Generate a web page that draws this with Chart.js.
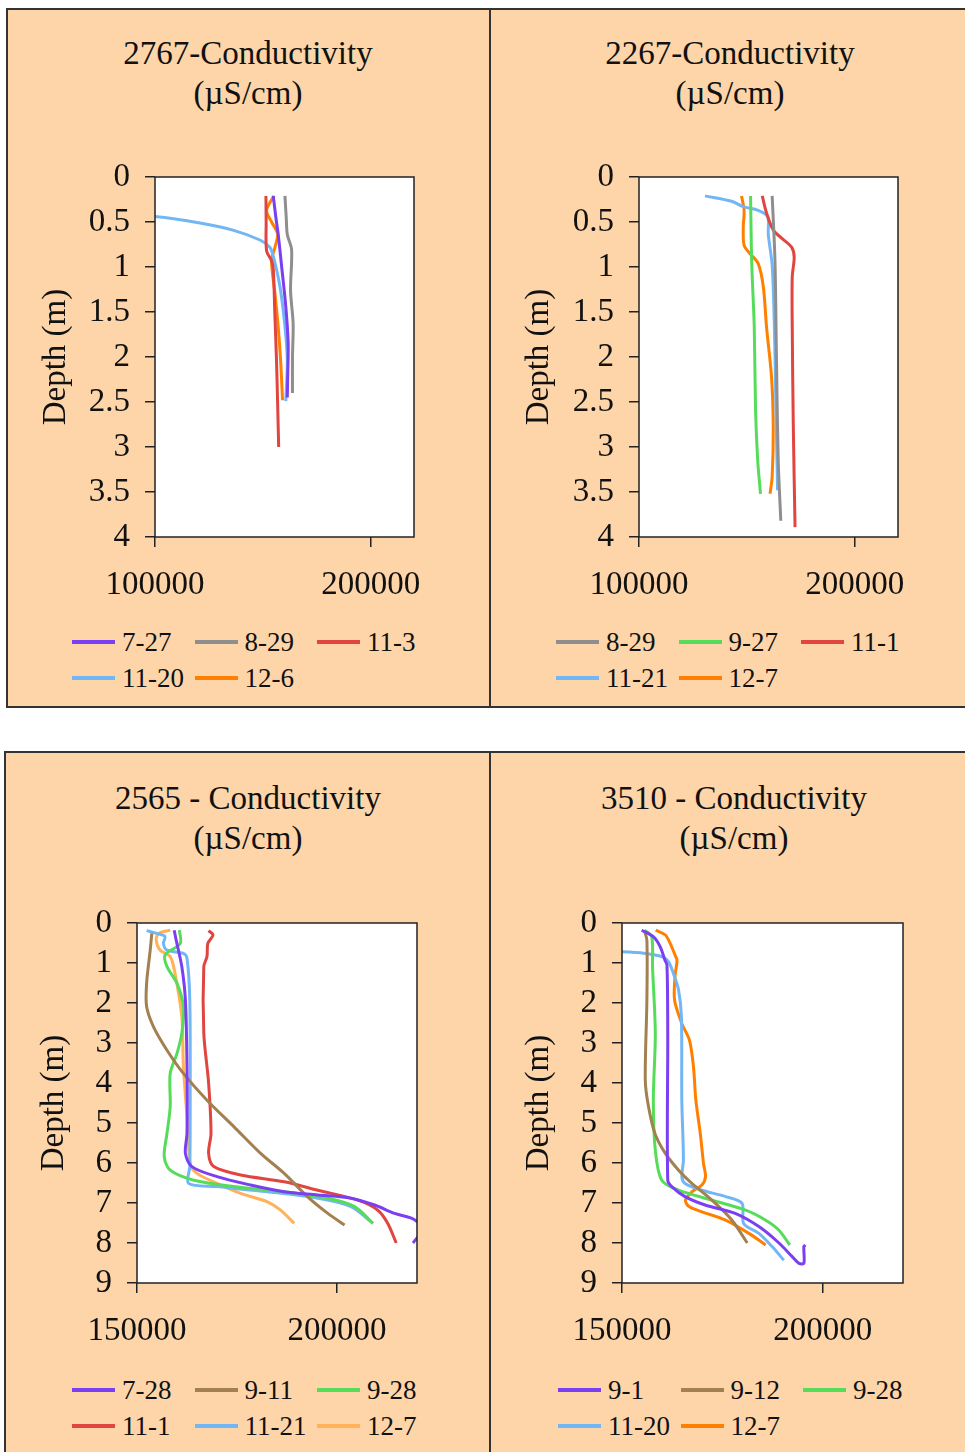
<!DOCTYPE html>
<html>
<head>
<meta charset="utf-8">
<script src="https://cdn.jsdelivr.net/npm/chart.js@4.4.1/dist/chart.umd.min.js"></script>
<style>
  html, body { margin: 0; padding: 0; background: #fff; }
  body { width: 965px; height: 1452px; position: relative; overflow: hidden;
         font-family: "Liberation Serif", "Times New Roman", serif; color: #111; }
  .panel { position: absolute; box-sizing: border-box; background: #fdd5a9; border: 2px solid #333; }
  canvas { position: absolute; }
  .title { position: absolute; width: 480px; text-align: center; font-size: 33px; line-height: 40px; }
  .legend { position: absolute; font-size: 27px; }
  .legend .item { position: absolute; height: 36px; line-height: 36px; white-space: nowrap; }
  .legend .item i { position: absolute; left: 0; top: 16px; width: 43px; height: 4px; }
  .legend .item span { position: absolute; left: 50px; top: 0; }
</style>
</head>
<body>
<div class="panel" style="left:6px;top:8px;width:485px;height:700px"></div>
<div class="panel" style="left:489px;top:8px;width:500px;height:700px"></div>
<div class="panel" style="left:4px;top:751px;width:487px;height:720px"></div>
<div class="panel" style="left:489px;top:751px;width:500px;height:720px"></div>

<div class="title" style="left:8px;top:33px">2767-Conductivity<br>(µS/cm)</div>
<div class="title" style="left:490px;top:33px">2267-Conductivity<br>(µS/cm)</div>
<div class="title" style="left:8px;top:778px">2565 - Conductivity<br>(µS/cm)</div>
<div class="title" style="left:494px;top:778px">3510 - Conductivity<br>(µS/cm)</div>

<canvas id="c2767" width="484" height="475" style="left:6px;top:137px"></canvas>
<canvas id="c2267" width="484" height="475" style="left:489px;top:137px"></canvas>
<canvas id="c2565" width="486" height="475" style="left:4px;top:883px"></canvas>
<canvas id="c3510" width="484" height="475" style="left:489px;top:883px"></canvas>

<div class="legend" id="l2767" style="left:72px;top:624px"></div>
<div class="legend" id="l2267" style="left:556px;top:624px"></div>
<div class="legend" id="l2565" style="left:72px;top:1372px"></div>
<div class="legend" id="l3510" style="left:558px;top:1372px"></div>

<script>
"use strict"

// tick labels
const xTicksTop = [100000, 200000];
const xTicksBottom = [150000, 200000];
const yTicksTop = [0, 0.5, 1, 1.5, 2, 2.5, 3, 3.5, 4];
const yTicksBottom = [0, 1, 2, 3, 4, 5, 6, 7, 8, 9];

// 2767 - depth (m) and conductivity (µS/cm) per date
const labels2767 = ['7-27', '8-29', '11-3', '11-20', '12-6'];
const depth2767_0727 = [0.21, 0.45, 0.64, 1.0, 1.44, 1.85, 2.2, 2.45];
const cond2767_0727 = [154800, 156000, 157100, 158700, 160600, 161700, 161500, 161300];
const depth2767_0829 = [0.21, 0.45, 0.64, 0.81, 1.26, 1.63, 2.0, 2.4];
const cond2767_0829 = [160200, 160800, 161300, 163300, 162800, 164000, 163700, 163700];
const depth2767_1103 = [0.21, 0.5, 0.82, 0.93, 1.02, 1.5, 2.04, 2.5, 3.0];
const cond2767_1103 = [151400, 151500, 151700, 154000, 154800, 155500, 156300, 156800, 157300];
const depth2767_1120 = [0.42, 0.44, 0.51, 0.59, 0.70, 0.78, 0.88, 1.22, 1.66, 2.04, 2.49];
const cond2767_1120 = [80000, 100000, 120800, 136100, 148600, 153200, 154800, 157900, 160200, 161300, 160600];
const depth2767_1206 = [0.21, 0.37, 0.50, 0.63, 0.78, 0.93, 1.30, 1.67, 2.04, 2.48];
const cond2767_1206 = [155100, 151700, 154000, 156800, 155600, 154000, 155600, 157100, 158200, 159100];

// 2267
const labels2267 = ['8-29', '9-27', '11-1', '11-21', '12-7'];
const depth2267_0829 = [0.21, 0.93, 2.04, 3.15, 3.82];
const cond2267_0829 = [161700, 163000, 163700, 164500, 165700];
const depth2267_0927 = [0.21, 0.93, 1.67, 2.59, 3.15, 3.52];
const cond2267_0927 = [151700, 152200, 153400, 154000, 155000, 156300];
const depth2267_1101 = [0.21, 0.40, 0.59, 0.68, 0.78, 0.89, 1.11, 1.67, 2.78, 3.89];
const cond2267_1101 = [157100, 159100, 162200, 166100, 170700, 171900, 171000, 171000, 171500, 172300];
const depth2267_1121 = [0.21, 0.27, 0.33, 0.37, 0.44, 0.64, 0.98, 1.63, 2.37, 3.48];
const cond2267_1121 = [130600, 142900, 148300, 155200, 159600, 159900, 161700, 162700, 163300, 164200];
const depth2267_1207 = [0.21, 0.37, 0.56, 0.76, 0.85, 0.96, 1.22, 1.67, 2.22, 2.78, 3.33, 3.52];
const cond2267_1207 = [147500, 148700, 148300, 148700, 151400, 155200, 157600, 159100, 161400, 162200, 161700, 160700];

// 2565
const labels2565 = ['7-28', '9-11', '9-28', '11-1', '11-21', '12-7'];
const depth2565_0728 = [0.18, 0.43, 1.09, 1.93, 3.59, 5.26, 5.76, 6.09, 6.34, 6.55, 6.72, 6.8, 6.88, 7.05, 7.26, 7.38, 7.55, 7.7, 7.84, 8.0];
const cond2565_0728 = [159300, 159800, 161200, 162100, 162500, 162500, 162100, 163700, 170000, 178400, 186800, 195200, 203500, 209400, 214400, 218600, 221000, 222000, 220300, 219000];
const depth2565_0911 = [0.26, 0.68, 1.51, 2.09, 2.59, 3.18, 3.76, 4.43, 5.09, 5.76, 6.26, 6.84, 7.26, 7.55];
const cond2565_0911 = [153700, 153300, 152400, 152400, 154100, 157500, 161600, 167500, 174200, 180900, 186800, 192600, 197700, 201900];
const depth2565_0928 = [0.18, 0.51, 0.8, 1.09, 1.51, 2.09, 2.76, 3.26, 3.76, 4.59, 5.26, 5.84, 6.18, 6.43, 6.59, 6.72, 6.88, 7.09, 7.51];
const cond2565_0928 = [160600, 160800, 157000, 157500, 160000, 161600, 161200, 160000, 158300, 158300, 157500, 156800, 158300, 164200, 174200, 186800, 197700, 204400, 209000];
const depth2565_1101 = [0.19, 0.3, 0.51, 0.84, 1.09, 2.76, 4.0, 5.26, 5.76, 6.09, 6.3, 6.47, 6.68, 6.93, 7.18, 7.51, 8.0];
const cond2565_1101 = [167900, 169000, 167700, 167500, 166700, 166700, 167900, 168500, 167900, 169200, 175900, 186800, 195200, 205200, 210200, 212700, 214800];
const depth2565_1121 = [0.19, 0.26, 0.34, 0.51, 0.68, 0.76, 0.88, 1.93, 4.43, 6.09, 6.51, 6.59, 6.72, 6.88, 7.09, 7.51];
const cond2565_1121 = [152400, 154900, 157000, 156600, 157500, 161600, 162500, 163200, 163300, 163200, 162900, 170000, 182600, 195200, 203500, 209000];
const depth2565_1207 = [0.18, 0.26, 0.43, 0.68, 0.84, 1.26, 2.34, 3.59, 4.84, 6.01, 6.26, 6.51, 6.76, 6.97, 7.18, 7.51];
const cond2565_1207 = [158300, 155400, 154800, 155800, 158300, 159500, 161200, 161600, 162500, 163300, 165000, 170000, 175900, 182600, 185900, 189300];

// 3510
const labels3510 = ['9-1', '9-12', '9-28', '11-20', '12-7'];
const depth3510_0901 = [0.18, 0.34, 0.59, 0.93, 1.05, 2.76, 6.43, 6.59, 6.84, 7.05, 7.26, 7.59, 8.0, 8.34, 8.51, 8.51, 8.09, 8.05];
const cond3510_0901 = [154900, 157800, 159500, 160700, 161200, 161400, 161400, 162400, 165700, 170700, 178200, 184100, 189100, 192400, 194100, 195300, 195300, 195700];
const depth3510_0912 = [0.19, 0.43, 1.93, 3.93, 4.59, 5.26, 5.76, 6.18, 6.51, 6.93, 7.43, 8.0];
const cond3510_0912 = [155600, 156200, 156200, 155800, 156600, 158200, 160800, 164100, 167400, 172400, 177400, 181200];
const depth3510_0928 = [0.18, 0.34, 1.09, 2.76, 4.43, 5.68, 6.43, 6.68, 6.93, 7.18, 7.43, 7.68, 8.05];
const cond3510_0928 = [155600, 157400, 157600, 158300, 157800, 158300, 159900, 164100, 172400, 180800, 185800, 189100, 191800];
const depth3510_1120 = [0.70, 0.72, 0.76, 0.84, 0.97, 1.26, 1.68, 2.34, 4.43, 5.93, 6.34, 6.51, 6.68, 6.84, 7.01, 7.51, 7.76, 8.09, 8.43];
const cond3510_1120 = [140000, 150000, 155800, 159900, 161600, 162800, 164100, 164800, 164900, 165300, 164900, 165700, 169900, 175800, 179900, 180300, 184100, 187400, 190300];
const depth3510_1207 = [0.18, 0.3, 0.51, 0.8, 0.93, 1.34, 1.93, 2.51, 2.93, 3.59, 4.43, 5.26, 6.01, 6.34, 6.55, 6.72, 6.93, 7.09, 7.22, 7.43, 7.76, 8.05];
const cond3510_1207 = [158400, 160800, 162000, 163200, 163700, 163200, 163100, 164900, 166800, 167800, 168400, 169500, 170300, 170800, 169900, 167400, 165800, 166700, 169900, 175800, 181600, 185800];

// line colours
const PURPLE = '#7b3ff2', GRAY = '#8e8e8e', RED = '#e0453f', BLUE = '#72b6f5',
      ORANGE = '#ff8000', GREEN = '#55dd5a', BROWN = '#a3804f', LIGHTORANGE = '#ffb257';

Chart.defaults.font.family = '"Liberation Serif", "Times New Roman", serif';
Chart.defaults.color = '#111';

// white plot area with a dark frame
const plotFrame = {
  id: 'plotFrame',
  beforeDraw(chart) {
    const a = chart.chartArea;
    chart.ctx.save();
    chart.ctx.fillStyle = '#fff';
    chart.ctx.fillRect(a.left, a.top, a.right - a.left, a.bottom - a.top);
    chart.ctx.restore();
  },
  afterDraw(chart) {
    const a = chart.chartArea;
    const ctx = chart.ctx;
    ctx.save();
    ctx.strokeStyle = '#222';
    ctx.lineWidth = 1.5;
    ctx.strokeRect(a.left, a.top, a.right - a.left, a.bottom - a.top);
    ctx.restore();
  }
};

function toPoints(cond, depth) {
  return cond.map((c, i) => ({ x: c, y: depth[i] }));
}

function buildChart(id, set) {
  new Chart(document.getElementById(id), {
    type: 'scatter',
    data: {
      datasets: set.labels.map((lab, i) => ({
        label: lab,
        data: toPoints(set.conds[i], set.depths[i]),
        borderColor: set.colors[i],
        backgroundColor: set.colors[i],
        showLine: true,
        pointRadius: 0,
        borderWidth: 3,
        tension: 0.3
      }))
    },
    options: {
      responsive: false,
      animation: false,
      layout: { padding: { top: 40, right: set.padRight, bottom: 0, left: 0 } },
      plugins: { legend: { display: false }, tooltip: { enabled: false } },
      scales: {
        x: {
          type: 'linear',
          min: set.xTicks[0],
          max: 220000,
          afterBuildTicks: s => { s.ticks = set.xTicks.map(v => ({ value: v })); },
          afterFit: s => { s.height = 75; },
          grid: { drawOnChartArea: false, drawTicks: true, tickLength: 10, color: '#222', lineWidth: 1.5 },
          border: { display: false },
          ticks: { padding: 19, font: { size: 33 }, color: '#111', maxRotation: 0, autoSkip: false,
                   callback: v => String(v) }
        },
        y: {
          type: 'linear',
          reverse: true,
          min: 0,
          max: set.yTicks[set.yTicks.length - 1],
          afterBuildTicks: s => { s.ticks = set.yTicks.map(v => ({ value: v })); },
          afterFit: s => { s.width = set.axisWidth; },
          grid: { drawOnChartArea: false, drawTicks: true, tickLength: 10, color: '#222', lineWidth: 1.5 },
          border: { display: false },
          ticks: { padding: 15, font: { size: 33 }, color: '#111', autoSkip: false,
                   callback: v => String(v) },
          title: { display: true, text: 'Depth (m)', font: { size: 33 }, color: '#111',
                   padding: { top: 31, bottom: 0 } }
        }
      }
    },
    plugins: [plotFrame]
  });
  buildLegend(set.legend, set.labels, set.colors);
}

// legend in three fixed columns like the original
function buildLegend(id, labels, colors) {
  const el = document.getElementById(id);
  labels.forEach((lab, i) => {
    const item = document.createElement('div');
    item.className = 'item';
    item.style.left = (i % 3) * 122.5 + 'px';
    item.style.top = Math.floor(i / 3) * 36 + 'px';
    const line = document.createElement('i');
    line.style.background = colors[i];
    const text = document.createElement('span');
    text.textContent = lab;
    item.appendChild(line);
    item.appendChild(text);
    el.appendChild(item);
  });
}

buildChart('c2767', {
  labels: labels2767,
  depths: [depth2767_0727, depth2767_0829, depth2767_1103, depth2767_1120, depth2767_1206],
  conds: [cond2767_0727, cond2767_0829, cond2767_1103, cond2767_1120, cond2767_1206],
  colors: [PURPLE, GRAY, RED, BLUE, ORANGE],
  xTicks: xTicksTop, yTicks: yTicksTop,
  axisWidth: 149, padRight: 76, legend: 'l2767'
});

buildChart('c2267', {
  labels: labels2267,
  depths: [depth2267_0829, depth2267_0927, depth2267_1101, depth2267_1121, depth2267_1207],
  conds: [cond2267_0829, cond2267_0927, cond2267_1101, cond2267_1121, cond2267_1207],
  colors: [GRAY, GREEN, RED, BLUE, ORANGE],
  xTicks: xTicksTop, yTicks: yTicksTop,
  axisWidth: 150, padRight: 75, legend: 'l2267'
});

buildChart('c2565', {
  labels: labels2565,
  depths: [depth2565_0728, depth2565_0911, depth2565_0928, depth2565_1101, depth2565_1121, depth2565_1207],
  conds: [cond2565_0728, cond2565_0911, cond2565_0928, cond2565_1101, cond2565_1121, cond2565_1207],
  colors: [PURPLE, BROWN, GREEN, RED, BLUE, LIGHTORANGE],
  xTicks: xTicksBottom, yTicks: yTicksBottom,
  axisWidth: 133, padRight: 73, legend: 'l2565'
});

buildChart('c3510', {
  labels: labels3510,
  depths: [depth3510_0901, depth3510_0912, depth3510_0928, depth3510_1120, depth3510_1207],
  conds: [cond3510_0901, cond3510_0912, cond3510_0928, cond3510_1120, cond3510_1207],
  colors: [PURPLE, BROWN, GREEN, BLUE, ORANGE],
  xTicks: xTicksBottom, yTicks: yTicksBottom,
  axisWidth: 133, padRight: 70, legend: 'l3510'
});
</script>
</body>
</html>
